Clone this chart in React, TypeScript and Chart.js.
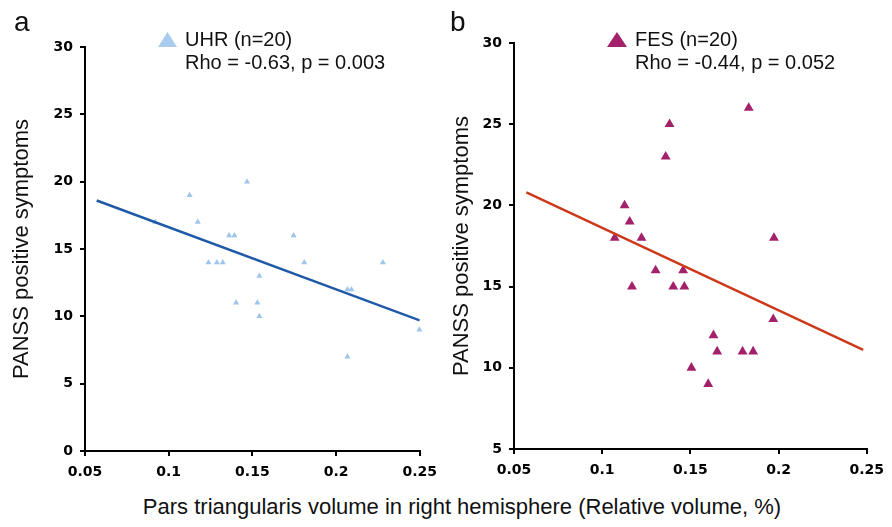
import React, { useEffect, useRef } from "react";
import { Chart, registerables } from "chart.js";

Chart.register(...registerables);

// ---- data ----
const xTicks = [0.05, 0.1, 0.15, 0.2, 0.25];
const uhrYTicks = [0, 5, 10, 15, 20, 25, 30];
const fesYTicks = [5, 10, 15, 20, 25, 30];

const uhrX = [0.092, 0.1125, 0.1468, 0.1174, 0.1238, 0.1288, 0.1323, 0.1361, 0.1393, 0.1746, 0.181, 0.1403, 0.153, 0.1542, 0.1542, 0.2068, 0.2092, 0.2068, 0.228, 0.2498];
const uhrY = [17, 19, 20, 17, 14, 14, 14, 16, 16, 16, 14, 11, 11, 13, 10, 12, 12, 7, 14, 9];
const uhrTrendX = [0.057, 0.25];
const uhrTrendY = [18.6, 9.7];

const fesX = [0.1831, 0.1382, 0.136, 0.1127, 0.1156, 0.1071, 0.1223, 0.1974, 0.1303, 0.1459, 0.1169, 0.1403, 0.1466, 0.197, 0.1631, 0.1652, 0.1796, 0.1856, 0.1506, 0.1601];
const fesY = [26, 25, 23, 20, 19, 18, 18, 18, 16, 16, 15, 15, 15, 13, 12, 11, 11, 11, 10, 9];
const fesTrendX = [0.057, 0.248];
const fesTrendY = [20.8, 11.1];

const FONT = "'Liberation Sans', Arial, Helvetica, sans-serif";
const TICK_FONT = "'DejaVu Sans', sans-serif";

type PanelProps = {
  left: number;
  width: number;
  height: number;
  yWidth: number;
  pad: { top: number; right: number; bottom: number; left: number };
  xs: number[];
  ys: number[];
  tx: number[];
  ty: number[];
  yTicks: number[];
  pointColor: string;
  lineColor: string;
  pointRadius: number;
  titlePad: number;
};

function Panel(p: PanelProps) {
  const ref = useRef<HTMLCanvasElement>(null);
  useEffect(() => {
    const pts = p.xs.map((x, i) => ({ x, y: p.ys[i] }));
    const trend = p.tx.map((x, i) => ({ x, y: p.ty[i] }));
    const yMin = p.yTicks[0];
    const yMax = p.yTicks[p.yTicks.length - 1];
    const chart = new Chart(ref.current as HTMLCanvasElement, {
      type: "scatter",
      data: {
        datasets: [
          {
            type: "line",
            data: trend,
            borderColor: p.lineColor,
            borderWidth: 2.5,
            pointRadius: 0,
            fill: false,
            tension: 0,
          } as any,
          {
            data: pts,
            pointStyle: "triangle",
            pointRadius: p.pointRadius,
            backgroundColor: p.pointColor,
            borderColor: p.pointColor,
            borderWidth: 0,
            clip: false,
          } as any,
        ],
      },
      options: {
        responsive: false,
        animation: false,
        devicePixelRatio: 1,
        layout: { padding: p.pad },
        plugins: { legend: { display: false }, tooltip: { enabled: false } },
        scales: {
          x: {
            type: "linear",
            min: xTicks[0],
            max: xTicks[xTicks.length - 1],
            afterBuildTicks: (s: any) => {
              s.ticks = xTicks.map((v) => ({ value: v }));
            },
            afterFit: (s: any) => {
              s.height = 30;
            },
            grid: { drawOnChartArea: false, drawTicks: true, tickLength: 5, color: "#000", lineWidth: 2 },
            border: { display: true, color: "#000", width: 2 },
            ticks: {
              padding: 8,
              color: "#000",
              font: { family: TICK_FONT, size: 14, weight: "bold" },
              callback: (v: any) => String(parseFloat(Number(v).toFixed(2))),
            },
          },
          y: {
            type: "linear",
            min: yMin,
            max: yMax,
            afterBuildTicks: (s: any) => {
              s.ticks = p.yTicks.map((v) => ({ value: v }));
            },
            afterFit: (s: any) => {
              s.width = p.yWidth;
            },
            grid: { drawOnChartArea: false, drawTicks: true, tickLength: 5, color: "#000", lineWidth: 2 },
            border: { display: true, color: "#000", width: 2 },
            ticks: {
              padding: 7,
              color: "#000",
              font: { family: TICK_FONT, size: 14, weight: "bold" },
            },
            title: {
              display: true,
              text: "PANSS positive symptoms",
              color: "#111",
              font: { family: FONT, size: 22 },
              padding: { top: p.titlePad, bottom: 0 },
            },
          },
        },
      },
    });
    return () => chart.destroy();
  }, []);
  return (
    <canvas
      ref={ref}
      width={p.width}
      height={p.height}
      style={{ position: "absolute", left: p.left, top: 0, width: p.width, height: p.height }}
    />
  );
}

export default function App() {
  const textStyle: React.CSSProperties = {
    position: "absolute",
    fontFamily: FONT,
    fontSize: 20,
    lineHeight: "23px",
    color: "#111",
    whiteSpace: "nowrap",
  };
  return (
    <div style={{ position: "fixed", left: 0, top: 0, width: 892, height: 527, background: "#fff", overflow: "hidden" }}>
      <Panel
        left={0}
        width={445}
        height={490}
        yWidth={85}
        pad={{ top: 47, right: 24, bottom: 9, left: 0 }}
        xs={uhrX}
        ys={uhrY}
        tx={uhrTrendX}
        ty={uhrTrendY}
        yTicks={uhrYTicks}
        pointColor="#9fc5ea"
        lineColor="#1f5aa8"
        pointRadius={3.5}
        titlePad={9}
      />
      <Panel
        left={445}
        width={447}
        height={490}
        yWidth={69}
        pad={{ top: 43, right: 21, bottom: 11, left: 0 }}
        xs={fesX}
        ys={fesY}
        tx={fesTrendX}
        ty={fesTrendY}
        yTicks={fesYTicks}
        pointColor="#a3206a"
        lineColor="#cc3a1a"
        pointRadius={5.7}
        titlePad={4}
      />

      {/* panel labels */}
      <div style={{ position: "absolute", left: 14, top: 8, fontFamily: FONT, fontSize: 28, lineHeight: "28px", color: "#111" }}>a</div>
      <div style={{ position: "absolute", left: 450, top: 8, fontFamily: FONT, fontSize: 28, lineHeight: "28px", color: "#111" }}>b</div>

      {/* legends */}
      <svg style={{ position: "absolute", left: 158, top: 32 }} width={19} height={15}>
        <polygon points="9.5,0 19,15 0,15" fill="#a9cbee" />
      </svg>
      <div style={{ ...textStyle, left: 185, top: 28 }}>
        UHR (n=20)
        <br />
        Rho = -0.63, p = 0.003
      </div>

      <svg style={{ position: "absolute", left: 607, top: 32 }} width={20} height={15}>
        <polygon points="10,0 20,15 0,15" fill="#a3206a" />
      </svg>
      <div style={{ ...textStyle, left: 635, top: 28 }}>
        FES (n=20)
        <br />
        Rho = -0.44, p = 0.052
      </div>

      {/* shared x-axis title */}
      <div
        style={{
          position: "absolute",
          left: 462,
          top: 494,
          transform: "translateX(-50%)",
          fontFamily: FONT,
          fontSize: 22,
          lineHeight: "26px",
          color: "#111",
          whiteSpace: "nowrap",
        }}
      >
        Pars triangularis volume in right hemisphere (Relative volume, %)
      </div>
    </div>
  );
}
